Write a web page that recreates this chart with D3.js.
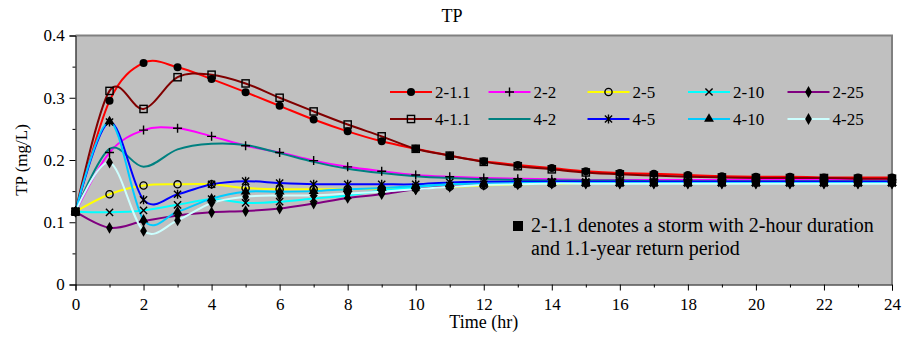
<!DOCTYPE html>
<html>
<head>
<meta charset="utf-8">
<script src="https://cdn.jsdelivr.net/npm/d3@7"></script>
<style>
  html, body { margin: 0; padding: 0; background: #fff; }
  svg text { font-family: "Liberation Serif", "DejaVu Serif", serif; }
</style>
</head>
<body>
<svg id="chart" width="910" height="337"></svg>
<script>
// ---- data ----
const hours = d3.range(0, 25);
const xTicks = [0, 2, 4, 6, 8, 10, 12, 14, 16, 18, 20, 22, 24];
const yTicks = [0, 0.1, 0.2, 0.3, 0.4];
const yTickLabels = ["0", "0.1", "0.2", "0.3", "0.4"];
const seriesNames = ["2-1.1", "2-2", "2-5", "2-10", "2-25", "4-1.1", "4-2", "4-5", "4-10", "4-25"];

const s2_1_1 = [0.117, 0.295, 0.356, 0.349, 0.330, 0.309, 0.287, 0.265, 0.246, 0.230, 0.218, 0.207, 0.198, 0.192, 0.187, 0.182, 0.179, 0.178, 0.176, 0.174, 0.173, 0.173, 0.172, 0.172, 0.172];
const s2_2   = [0.117, 0.212, 0.248, 0.251, 0.238, 0.223, 0.212, 0.199, 0.189, 0.182, 0.176, 0.173, 0.171, 0.170, 0.169, 0.168, 0.168, 0.168, 0.168, 0.168, 0.168, 0.168, 0.168, 0.168, 0.168];
const s2_5   = [0.117, 0.145, 0.159, 0.161, 0.161, 0.155, 0.153, 0.153, 0.153, 0.154, 0.155, 0.157, 0.159, 0.161, 0.162, 0.163, 0.164, 0.164, 0.164, 0.164, 0.164, 0.164, 0.164, 0.164, 0.164];
const s2_10  = [0.117, 0.116, 0.119, 0.128, 0.137, 0.131, 0.133, 0.138, 0.143, 0.151, 0.156, 0.159, 0.161, 0.162, 0.163, 0.163, 0.163, 0.163, 0.163, 0.163, 0.163, 0.163, 0.163, 0.163, 0.163];
const s2_25  = [0.117, 0.091, 0.102, 0.111, 0.116, 0.118, 0.122, 0.130, 0.139, 0.145, 0.153, 0.158, 0.161, 0.162, 0.163, 0.163, 0.163, 0.163, 0.163, 0.163, 0.163, 0.163, 0.163, 0.163, 0.163];
const s4_1_1 = [0.117, 0.311, 0.282, 0.333, 0.337, 0.323, 0.300, 0.278, 0.257, 0.238, 0.218, 0.207, 0.197, 0.190, 0.185, 0.180, 0.177, 0.175, 0.173, 0.172, 0.171, 0.171, 0.171, 0.170, 0.170];
const s4_2   = [0.117, 0.218, 0.189, 0.217, 0.226, 0.224, 0.211, 0.197, 0.186, 0.179, 0.174, 0.171, 0.169, 0.168, 0.167, 0.167, 0.167, 0.166, 0.166, 0.166, 0.166, 0.166, 0.166, 0.166, 0.166];
const s4_5   = [0.117, 0.261, 0.136, 0.145, 0.161, 0.166, 0.163, 0.161, 0.161, 0.161, 0.161, 0.164, 0.165, 0.165, 0.165, 0.165, 0.165, 0.165, 0.165, 0.165, 0.165, 0.165, 0.165, 0.165, 0.165];
const s4_10  = [0.117, 0.262, 0.104, 0.117, 0.138, 0.149, 0.149, 0.150, 0.153, 0.155, 0.158, 0.161, 0.162, 0.163, 0.163, 0.163, 0.163, 0.163, 0.163, 0.163, 0.163, 0.163, 0.163, 0.163, 0.163];
const s4_25  = [0.117, 0.196, 0.086, 0.103, 0.131, 0.141, 0.143, 0.143, 0.146, 0.149, 0.153, 0.157, 0.160, 0.161, 0.162, 0.162, 0.162, 0.162, 0.162, 0.162, 0.162, 0.162, 0.162, 0.162, 0.162];

const seriesValues = [s2_1_1, s2_2, s2_5, s2_10, s2_25, s4_1_1, s4_2, s4_5, s4_10, s4_25];
const seriesColors = ["#FF0000", "#FF00FF", "#FFFF00", "#00FFFF", "#800080", "#800000", "#008080", "#0000FF", "#00CCFF", "#CCFFFF"];
const seriesMarkers = ["dot", "plus", "ring", "x", "diamond", "square", "none", "star", "triangle", "diamond"];

// ---- layout ----
const FONT = "'Liberation Serif', 'DejaVu Serif', serif";
const svg = d3.select("#chart");
const L = 75.5, R = 892, T = 35.5, B = 284.5;
const x = d3.scaleLinear().domain([0, 24]).range([L, R]);
const y = d3.scaleLinear().domain([0, 0.4]).range([B, T]);

// plot area
svg.append("rect").attr("x", L).attr("y", T).attr("width", R - L).attr("height", B - T)
  .attr("fill", "#C0C0C0");
svg.append("path").attr("d", `M${L},${T}H${R}V${B}`).attr("fill", "none")
  .attr("stroke", "#808080").attr("stroke-width", 2);

// markers
function drawMarker(g, type, cx, cy) {
  const s = g.append("g").attr("transform", `translate(${cx},${cy})`);
  switch (type) {
    case "dot": s.append("circle").attr("r", 4).attr("fill", "#000"); break;
    case "ring": s.append("circle").attr("r", 3.6).attr("fill", "none").attr("stroke", "#000").attr("stroke-width", 1.4); break;
    case "square": s.append("rect").attr("x", -3.6).attr("y", -3.6).attr("width", 7.2).attr("height", 7.2)
        .attr("fill", "none").attr("stroke", "#000").attr("stroke-width", 1.4); break;
    case "plus": s.append("path").attr("d", "M-4.5,0H4.5M0,-4.5V4.5").attr("stroke", "#000").attr("stroke-width", 1.4); break;
    case "x": s.append("path").attr("d", "M-3.6,-3.6L3.6,3.6M-3.6,3.6L3.6,-3.6").attr("stroke", "#000").attr("stroke-width", 1.4); break;
    case "star": s.append("path").attr("d", "M-3.6,-3.6L3.6,3.6M-3.6,3.6L3.6,-3.6M0,-4.5V4.5").attr("stroke", "#000").attr("stroke-width", 1.4); break;
    case "diamond": s.append("path").attr("d", d3.symbol(d3.symbolDiamond, 40)()).attr("fill", "#000"); break;
    case "triangle": s.append("path").attr("d", d3.symbol(d3.symbolTriangle, 42)()).attr("fill", "#000"); break;
  }
}

const line = d3.line().x((d, i) => x(hours[i])).y(d => y(d)).curve(d3.curveCardinal.tension(0));
const plot = svg.append("g");
seriesValues.forEach((vals, k) => {
  plot.append("path").attr("d", line(vals)).attr("fill", "none")
    .attr("stroke", seriesColors[k]).attr("stroke-width", 2);
});
seriesValues.forEach((vals, k) => {
  if (seriesMarkers[k] === "none") return;
  vals.forEach((v, i) => drawMarker(plot, seriesMarkers[k], x(hours[i]), y(v)));
});

// axes
const xAxis = svg.append("g").attr("transform", `translate(0,${B})`)
  .call(d3.axisBottom(x).tickValues(xTicks).tickSize(6).tickFormat(d3.format("d")));
svg.append("g").attr("transform", `translate(0,${B})`)
  .call(d3.axisBottom(x).tickValues(d3.range(1, 24, 2)).tickSize(3).tickFormat(""))
  .select(".domain").remove();
const yAxis = svg.append("g").attr("transform", `translate(${L},0)`)
  .call(d3.axisLeft(y).tickValues(yTicks).tickSize(6).tickFormat((d, i) => yTickLabels[i]));
svg.append("g").attr("transform", `translate(${L},0)`)
  .call(d3.axisLeft(y).tickValues([0.05, 0.15, 0.25, 0.35]).tickSize(3).tickFormat(""))
  .select(".domain").remove();
svg.selectAll(".domain").attr("stroke", "#000");
svg.selectAll(".tick line").attr("stroke", "#000");
xAxis.attr("font-family", FONT).selectAll("text").attr("font-size", 17).attr("fill", "#000").attr("dy", "0.95em");
yAxis.attr("font-family", FONT).selectAll("text").attr("font-size", 17).attr("fill", "#000").attr("dx", "-0.1em");

// titles
svg.append("text").attr("x", 452).attr("y", 22).attr("text-anchor", "middle")
  .attr("font-family", FONT).attr("font-size", 18).text("TP");
svg.append("text").attr("x", (L + R) / 2).attr("y", 328).attr("text-anchor", "middle")
  .attr("font-family", FONT).attr("font-size", 18).text("Time (hr)");
svg.append("text").attr("transform", `translate(27,${(T + B) / 2}) rotate(-90)`)
  .attr("text-anchor", "middle").attr("font-family", FONT).attr("font-size", 17).text("TP (mg/L)");

// legend
const colX = [390, 488.5, 587.5, 688, 787.5];
const rowY = [92, 119];
seriesNames.forEach((name, k) => {
  const c = k % 5, r = Math.floor(k / 5);
  const gx = colX[c], gy = rowY[r];
  const g = svg.append("g");
  g.append("line").attr("x1", gx).attr("x2", gx + 42).attr("y1", gy).attr("y2", gy)
    .attr("stroke", seriesColors[k]).attr("stroke-width", 2);
  if (seriesMarkers[k] !== "none") drawMarker(g, seriesMarkers[k], gx + 21, gy);
  g.append("text").attr("x", gx + 45).attr("y", gy + 6).attr("font-family", FONT)
    .attr("font-size", 17).text(name);
});

// annotation
svg.append("rect").attr("x", 513).attr("y", 221).attr("width", 10).attr("height", 10).attr("fill", "#000");
svg.append("text").attr("x", 531).attr("y", 232).attr("font-family", FONT).attr("font-size", 20)
  .text("2-1.1 denotes a storm with 2-hour duration");
svg.append("text").attr("x", 531).attr("y", 255).attr("font-family", FONT).attr("font-size", 20)
  .text("and 1.1-year return period");
</script>
</body>
</html>
